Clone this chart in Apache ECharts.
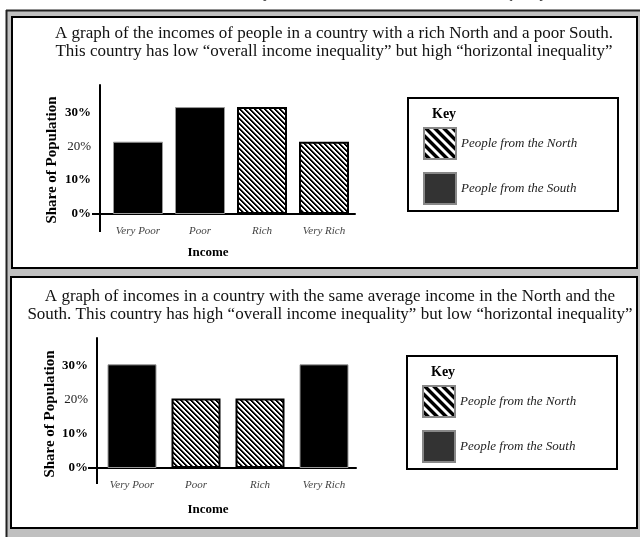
<!DOCTYPE html>
<html><head><meta charset="utf-8">
<script src="https://cdn.jsdelivr.net/npm/echarts@6/dist/echarts.min.js"></script>
<style>html,body{margin:0;padding:0;background:#fff}#c{width:640px;height:537px}</style>
</head><body><div id="c"></div>
<script>
const categories = ['Very Poor', 'Poor', 'Rich', 'Very Rich'];
const yTicks = [0, 10, 20, 30];
const seriesNames = ['People from the North', 'People from the South'];
const p1North = [null, null, 31.5, 21.3];
const p1South = [21.3, 31.5, null, null];
const p2North = [null, 20.3, 20.3, null];
const p2South = [30.3, null, null, 30.3];
const title1 = ['A graph of the incomes of people in a country with a rich North and a poor South.',
                'This country has low “overall income inequality” but high “horizontal inequality”'];
const title2 = ['A graph of incomes in a country with the same average income in the North and the',
                'South. This country has high “overall income inequality” but low “horizontal inequality”'];
const yName = 'Share of Population';
const xName = 'Income';
const keyLabel = 'Key';

const SERIF = '"Liberation Serif", "DejaVu Serif", serif';

function stripes(size, black, gray) {
  const c = document.createElement('canvas');
  c.width = size; c.height = size;
  const ctx = c.getContext('2d');
  const img = ctx.createImageData(size, size);
  for (let y = 0; y < size; y++) for (let x = 0; x < size; x++) {
    const d = ((x - y) % size + size) % size;
    let v = 255;
    if (d < black) v = 0; else if (gray.indexOf(d) >= 0) v = 140;
    const i = (y * size + x) * 4;
    img.data[i] = img.data[i+1] = img.data[i+2] = v; img.data[i+3] = 255;
  }
  ctx.putImageData(img, 0, 0);
  return c;
}
const barPattern = { image: stripes(5, 2, [2]), repeat: 'repeat' };
const keyPattern = { image: stripes(9, 4, [4, 8]), repeat: 'repeat' };

const chart = echarts.init(document.getElementById('c'), null, { renderer: 'canvas' });

const panels = [
  { left: 107, width: 248, top: 85, height: 129, yOff: 7, barW: 50, north: p1North, south: p1South,
    axisStart: 92, axisBelow: 18, legendTop: 122, box: [408, 98, 210, 113], keyY: 114,
    title: title1, titleX: 334, titleY: 43, incomeX: 208, incomeY: 253, nameX: 52, nameY: 160 },
  { left: 100, width: 256, top: 338, height: 130, yOff: 3, barW: 49, north: p2North, south: p2South,
    axisStart: 88, axisBelow: 16, legendTop: 380, box: [407, 356, 210, 113], keyY: 372,
    title: title2, titleX: 330, titleY: 306, incomeX: 208, incomeY: 510, nameX: 50, nameY: 414 }
];

const grid = [], xAxis = [], yAxis = [], series = [], legend = [];
panels.forEach((p, i) => {
  grid.push({ left: p.left, width: p.width, top: p.top, height: p.height, containLabel: false });
  xAxis.push({
    type: 'category', gridIndex: i, data: categories,
    axisLine: { lineStyle: { color: '#000', width: 2 } },
    axisTick: { show: false },
    axisLabel: { margin: 12, fontFamily: SERIF, fontStyle: 'italic', fontSize: 11, color: '#444' }
  });
  yAxis.push({
    type: 'value', gridIndex: i, min: 0, max: 38, interval: 10, offset: p.yOff,
    axisLine: { show: true, lineStyle: { color: '#000', width: 2 } },
    axisTick: { show: false }, splitLine: { show: false },
    axisLabel: {
      showMaxLabel: false, margin: 9,
      formatter: v => yTicks.indexOf(v) < 0 ? '' : (v === 20 ? '{n|' + v + '%}' : '{b|' + v + '%}'),
      rich: {
        b: { fontFamily: SERIF, fontWeight: 'bold', fontSize: 13, color: '#000' },
        n: { fontFamily: SERIF, fontSize: 13, color: '#222' }
      }
    }
  });
  series.push({
    type: 'bar', name: seriesNames[0], xAxisIndex: i, yAxisIndex: i, data: p.north,
    barWidth: p.barW, barGap: '-100%',
    itemStyle: { color: barPattern, borderColor: '#000', borderWidth: 2 }
  });
  series.push({
    type: 'bar', name: seriesNames[1], xAxisIndex: i, yAxisIndex: i, data: p.south,
    barWidth: p.barW, barGap: '-100%',
    itemStyle: { color: '#000', borderColor: '#999', borderWidth: 1 }
  });
  legend.push({
    left: p.box[0] + 10, top: p.legendTop, orient: 'vertical', icon: 'rect',
    itemWidth: 32, itemHeight: 31, itemGap: 12, selectedMode: false,
    textStyle: { fontFamily: SERIF, fontStyle: 'italic', fontSize: 13, color: '#222' },
    data: [
      { name: seriesNames[0], itemStyle: { color: keyPattern, borderColor: '#888', borderWidth: 2 } },
      { name: seriesNames[1], itemStyle: { color: '#333', borderColor: '#888', borderWidth: 2 } }
    ]
  });
});

const graphics = [
  { type: 'rect', z: -20, shape: { x: 0, y: 0, width: 640, height: 10 }, style: { fill: '#fff' } },
  { type: 'rect', z: -20, shape: { x: 0, y: 0, width: 6, height: 537 }, style: { fill: '#fff' } },
  { type: 'line', z: -19, shape: { x1: 6, y1: 10.5, x2: 640, y2: 10.5 }, style: { stroke: '#222', lineWidth: 2 } },
  { type: 'line', z: -19, shape: { x1: 6.5, y1: 10, x2: 6.5, y2: 537 }, style: { stroke: '#222', lineWidth: 2 } },
  { type: 'rect', z: -18, shape: { x: 12, y: 17, width: 625, height: 251 }, style: { fill: '#fff', stroke: '#000', lineWidth: 2 } },
  { type: 'rect', z: -18, shape: { x: 11, y: 277, width: 626, height: 251 }, style: { fill: '#fff', stroke: '#000', lineWidth: 2 } },
  { type: 'text', z: 10, x: 225, y: 2, style: { text: 'country', font: '15px ' + SERIF, fill: '#333', verticalAlign: 'bottom' } },
  { type: 'text', z: 10, x: 487, y: 2, style: { text: 'inequality', font: '15px ' + SERIF, fill: '#333', verticalAlign: 'bottom' } }
];
panels.forEach(p => {
  graphics.push({ type: 'rect', z: -10, shape: { x: p.box[0], y: p.box[1], width: p.box[2], height: p.box[3] },
    style: { fill: '#fff', stroke: '#000', lineWidth: 2 } });
  graphics.push({ type: 'text', z: 10, x: p.box[0] + 24, y: p.keyY,
    style: { text: keyLabel, font: 'bold 14px ' + SERIF, fill: '#000', verticalAlign: 'middle' } });
  graphics.push({ type: 'text', z: 10, x: p.titleX, y: p.titleY,
    style: { text: p.title.join('\n'), font: '17px ' + SERIF, fill: '#111', align: 'center', verticalAlign: 'middle', lineHeight: 18 } });
  graphics.push({ type: 'text', z: 10, x: p.incomeX, y: p.incomeY,
    style: { text: xName, font: 'bold 13px ' + SERIF, fill: '#000', align: 'center', verticalAlign: 'middle' } });
  graphics.push({ type: 'text', z: 10, x: p.nameX, y: p.nameY, rotation: Math.PI / 2,
    style: { text: yName, font: 'bold 15px ' + SERIF, fill: '#000', align: 'center', verticalAlign: 'middle' } });
});

chart.setOption({
  backgroundColor: '#c0c0c0',
  animation: false,
  grid, xAxis, yAxis, series, legend,
  graphic: { elements: graphics }
});

// axes cross at the origin: extend the x-axis left of the y-axis and the y-axis below the x-axis
const ext = [];
panels.forEach((p, i) => {
  const y0 = chart.convertToPixel({ yAxisIndex: i }, 0);
  const xa = p.left - p.yOff;
  ext.push({ type: 'line', z: 10, shape: { x1: p.axisStart, y1: y0, x2: p.left, y2: y0 }, style: { stroke: '#000', lineWidth: 2 } });
  ext.push({ type: 'line', z: 10, shape: { x1: xa, y1: y0, x2: xa, y2: y0 + p.axisBelow }, style: { stroke: '#000', lineWidth: 2 } });
});
chart.setOption({ graphic: { elements: graphics.concat(ext) } });
</script></body></html>
